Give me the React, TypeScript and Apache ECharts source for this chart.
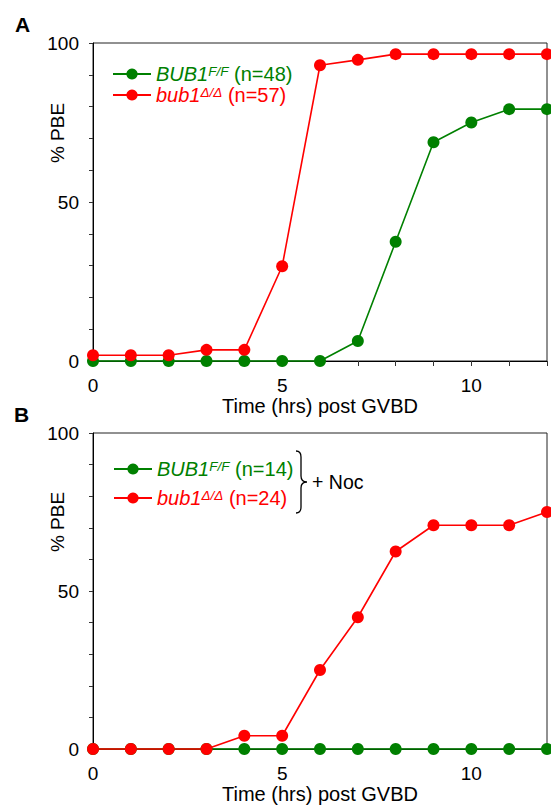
import React, { useEffect, useRef } from "react";
import * as echarts from "echarts";

const hours = [0, 1, 2, 3, 4, 5, 6, 7, 8, 9, 10, 11, 12];
const aWild = [0, 0, 0, 0, 0, 0, 0, 6.3, 37.5, 68.8, 75, 79.2, 79.2];
const aNull = [1.8, 1.8, 1.8, 3.5, 3.5, 29.8, 93, 94.7, 96.5, 96.5, 96.5, 96.5, 96.5];
const bWild = [0, 0, 0, 0, 0, 0, 0, 0, 0, 0, 0, 0, 0];
const bNull = [0, 0, 0, 0, 4.2, 4.2, 25, 41.7, 62.5, 70.8, 70.8, 70.8, 75];
const xTickLabels = [0, 5, 10];
const yTickLabels = [0, 50, 100];

const FONT = "Liberation Sans, Arial, sans-serif";
const GREEN = "#008000";
const RED = "#ff0000";

const legendNames: Record<string, string> = {
  A_wild: "{gi|BUB1}{gs|F/F}{gn| (n=48)}",
  A_null: "{ri|bub1}{rs|Δ/Δ}{rn| (n=57)}",
  B_wild: "{gi|BUB1}{gs|F/F}{gn| (n=14)}",
  B_null: "{ri|bub1}{rs|Δ/Δ}{rn| (n=24)}",
};

const LF = 20;
const SF = 13.5;
const rich = {
  gi: { color: GREEN, fontStyle: "italic", fontSize: LF, fontFamily: FONT },
  gs: { color: GREEN, fontStyle: "italic", fontSize: SF, fontFamily: FONT, verticalAlign: "top" },
  gn: { color: GREEN, fontSize: LF, fontFamily: FONT },
  ri: { color: RED, fontStyle: "italic", fontSize: LF, fontFamily: FONT },
  rs: { color: RED, fontStyle: "italic", fontSize: SF, fontFamily: FONT, verticalAlign: "top" },
  rn: { color: RED, fontSize: LF, fontFamily: FONT },
};

echarts.graphic.registerShape(
  "brace",
  echarts.graphic.extendPath(
    "M0,0 C4,0 5,2 5,6 L5,25 C5,29 7,31 11,31 C7,31 5,33 5,37 L5,56 C5,60 4,62 0,62",
    {}
  )
);

function makeX(gridIndex: number) {
  return {
    type: "value",
    gridIndex,
    min: 0,
    max: 12,
    interval: 1,
    name: "Time (hrs) post GVBD",
    nameLocation: "middle",
    nameGap: 35,
    nameMoveOverlap: false,
    nameTextStyle: { fontSize: 20, color: "#000", fontFamily: FONT },
    axisLine: { show: true, lineStyle: { color: "#000", width: 1 } },
    axisTick: { show: true, length: 5, lineStyle: { color: "#333" } },
    axisLabel: {
      margin: 15,
      fontSize: 19,
      color: "#000",
      fontFamily: FONT,
      formatter: (v: number) => (xTickLabels.includes(v) ? String(v) : ""),
    },
    splitLine: { show: false },
  };
}

function makeY(gridIndex: number) {
  return {
    type: "value",
    gridIndex,
    min: 0,
    max: 100,
    interval: 10,
    axisLine: { show: true, lineStyle: { color: "#000", width: 1 } },
    axisTick: { show: true, length: 4, lineStyle: { color: "#333" } },
    axisLabel: {
      margin: 14,
      fontSize: 19,
      color: "#000",
      fontFamily: FONT,
      formatter: (v: number) => (yTickLabels.includes(v) ? String(v) : ""),
    },
    splitLine: { show: false },
  };
}

function makeSeries(name: string, values: number[], color: string, idx: number) {
  return {
    name,
    type: "line",
    xAxisIndex: idx,
    yAxisIndex: idx,
    data: hours.map((h, i) => [h, values[i]]),
    symbol: "circle",
    symbolSize: 12,
    showSymbol: true,
    clip: false,
    lineStyle: { color, width: 1.6 },
    itemStyle: { color },
    emphasis: { disabled: true },
  };
}

function yName(y: number) {
  return {
    type: "text",
    x: 57,
    y,
    rotation: Math.PI / 2,
    style: {
      text: "% PBE",
      fontSize: 19,
      fontFamily: FONT,
      fill: "#000",
      align: "center",
      verticalAlign: "middle",
    },
  };
}

export default function App() {
  const ref = useRef<HTMLDivElement>(null);
  useEffect(() => {
    if (!ref.current) return;
    const chart = echarts.init(ref.current, undefined, { renderer: "svg" });
    const legendCommon = {
      orient: "vertical",
      itemWidth: 38,
      itemHeight: 14,
      formatter: (n: string) => legendNames[n],
      textStyle: { rich },
      selectedMode: false,
    };
    chart.setOption({
      animation: false,
      backgroundColor: "#fff",
      grid: [
        { left: 93, top: 43, width: 454, height: 318, show: true, borderColor: "#222", borderWidth: 1, backgroundColor: "transparent" },
        { left: 93, top: 433, width: 454, height: 316, show: true, borderColor: "#222", borderWidth: 1, backgroundColor: "transparent" },
      ],
      xAxis: [makeX(0), makeX(1)],
      yAxis: [makeY(0), makeY(1)],
      legend: [
        { ...legendCommon, left: 107, top: 59, itemGap: 1, data: ["A_wild", "A_null"] },
        { ...legendCommon, left: 108, top: 454, itemGap: 9, data: ["B_wild", "B_null"] },
      ],
      series: [
        makeSeries("A_wild", aWild, GREEN, 0),
        makeSeries("A_null", aNull, RED, 0),
        makeSeries("B_wild", bWild, GREEN, 1),
        makeSeries("B_null", bNull, RED, 1),
      ],
      graphic: [
        { type: "text", left: 15, top: 14, style: { text: "A", fontSize: 21, fontWeight: "bold", fontFamily: FONT, fill: "#000" } },
        { type: "text", left: 14, top: 404, style: { text: "B", fontSize: 21, fontWeight: "bold", fontFamily: FONT, fill: "#000" } },
        yName(133),
        yName(522),
        { type: "brace", x: 296, y: 451, style: { stroke: "#000", fill: "none", lineWidth: 1.3 } },
        { type: "text", left: 312, top: 472, style: { text: "+ Noc", fontSize: 19.5, fontFamily: FONT, fill: "#000" } },
      ],
    });
    return () => chart.dispose();
  }, []);
  return (
    <div
      ref={ref}
      style={{ position: "absolute", left: 0, top: 0, width: 551, height: 810 }}
    />
  );
}
